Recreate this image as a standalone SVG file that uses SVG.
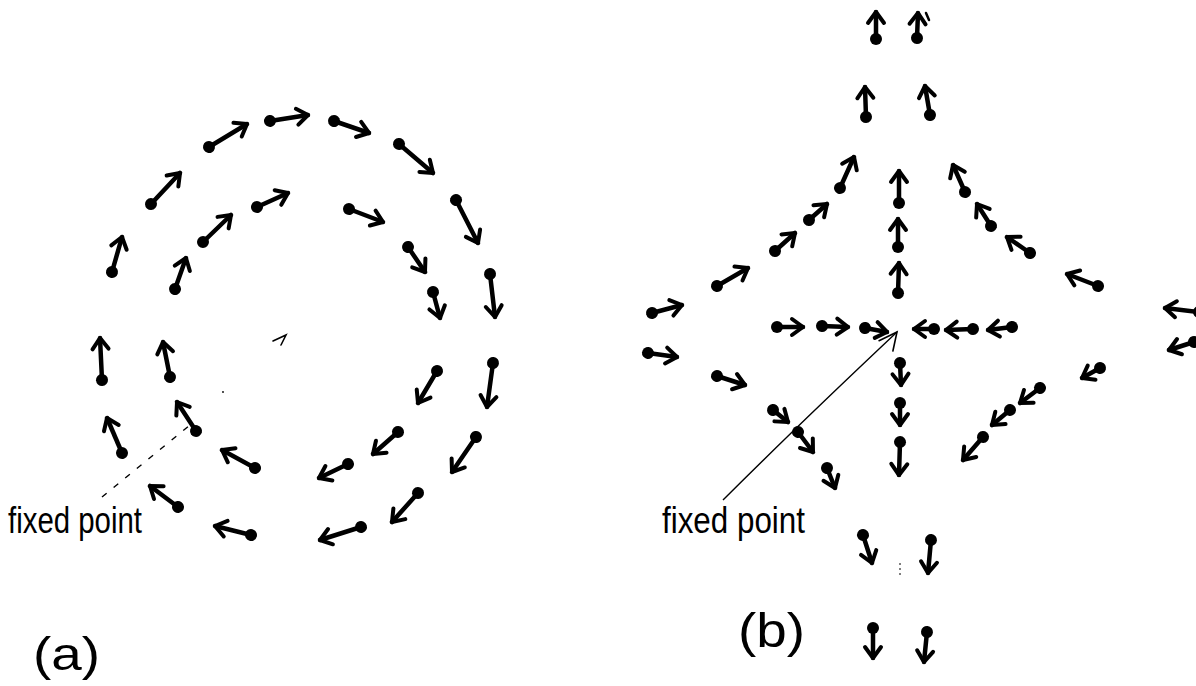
<svg xmlns="http://www.w3.org/2000/svg" width="1196" height="686" viewBox="0 0 1196 686">
<style>
.v{stroke:#000;stroke-width:4.5;stroke-linecap:round;fill:none;marker-start:url(#dot);marker-end:url(#head)}
.lbl{font-family:"Liberation Sans",Arial,sans-serif;fill:#000}
.lead{stroke:#000;fill:none;stroke-width:1.4}
</style>
<defs>
<marker id="head" markerUnits="userSpaceOnUse" markerWidth="30" markerHeight="30" viewBox="-15 -15 30 30" refX="0" refY="0" orient="auto" overflow="visible">
<path d="M-11,-8 L0,0 L-11,8" fill="none" stroke="#000" stroke-width="4" stroke-linecap="round" stroke-linejoin="round"/>
</marker>
<marker id="dot" markerUnits="userSpaceOnUse" markerWidth="20" markerHeight="20" viewBox="-10 -10 20 20" refX="0" refY="0" orient="auto" overflow="visible">
<circle r="6" fill="#000"/>
</marker>
<marker id="thinhead" markerUnits="userSpaceOnUse" markerWidth="40" markerHeight="40" viewBox="-20 -20 40 40" refX="0" refY="0" orient="auto" overflow="visible">
<path d="M-19,-6 L0,0 L-16,11" fill="none" stroke="#000" stroke-width="1.6" stroke-linecap="round"/>
</marker>
</defs>
<rect width="1196" height="686" fill="#fff"/>

<g id="panel-a">
<g id="a-outer">
<line class="v" x1="112" y1="272" x2="122" y2="237"/>
<line class="v" x1="151" y1="204" x2="180" y2="173"/>
<line class="v" x1="209" y1="147" x2="247" y2="124"/>
<line class="v" x1="270" y1="121" x2="308" y2="115"/>
<line class="v" x1="334" y1="121" x2="369" y2="133"/>
<line class="v" x1="399" y1="144" x2="433" y2="173"/>
<line class="v" x1="456" y1="200" x2="478" y2="243"/>
<line class="v" x1="490" y1="274" x2="495" y2="317"/>
<line class="v" x1="493" y1="363" x2="487" y2="407"/>
<line class="v" x1="476" y1="437" x2="452" y2="472"/>
<line class="v" x1="418" y1="493" x2="392" y2="522"/>
<line class="v" x1="361" y1="527" x2="320" y2="540"/>
<line class="v" x1="251" y1="535" x2="215" y2="526"/>
<line class="v" x1="178" y1="507" x2="150" y2="486"/>
<line class="v" x1="122" y1="453" x2="107" y2="418"/>
<line class="v" x1="102" y1="380" x2="100" y2="338"/>
</g>
<g id="a-inner">
<line class="v" x1="175" y1="289" x2="186" y2="258"/>
<line class="v" x1="203" y1="242" x2="231" y2="215"/>
<line class="v" x1="257" y1="207" x2="288" y2="193"/>
<line class="v" x1="349" y1="209" x2="383" y2="222"/>
<line class="v" x1="408" y1="247" x2="425" y2="272"/>
<line class="v" x1="433" y1="292" x2="440" y2="318"/>
<line class="v" x1="437" y1="371" x2="418" y2="403"/>
<line class="v" x1="398" y1="432" x2="373" y2="454"/>
<line class="v" x1="348" y1="464" x2="319" y2="478"/>
<line class="v" x1="255" y1="468" x2="222" y2="450"/>
<line class="v" x1="196" y1="431" x2="177" y2="402"/>
<line class="v" x1="170" y1="377" x2="163" y2="342"/>
</g>
<path id="a-center-mark" d="M273,341 L286,335 L281,345" fill="none" stroke="#000" stroke-width="1.6" stroke-linecap="round"/>
<g id="a-label">
<path class="lead" d="M102,497 L190,425" stroke-dasharray="6 9"/>
<circle cx="223" cy="392" r="0.9" fill="#000"/>
<text class="lbl" x="8" y="533" font-size="36" textLength="134" lengthAdjust="spacingAndGlyphs">fixed point</text>
</g>
<text id="a-caption" class="lbl" x="33" y="670" font-size="46" textLength="67" lengthAdjust="spacingAndGlyphs">(a)</text>
</g>

<g id="panel-b">
<g id="b-up">
<line class="v" x1="876" y1="39" x2="876" y2="12"/>
<line class="v" x1="917" y1="38" x2="918" y2="13"/>
<path d="M926,13 L929,20" stroke="#000" stroke-width="2.5" stroke-linecap="round"/>
<line class="v" x1="866" y1="117" x2="865" y2="87"/>
<line class="v" x1="930" y1="115" x2="925" y2="86"/>
<line class="v" x1="840" y1="188" x2="854" y2="157"/>
<line class="v" x1="899" y1="203" x2="899" y2="171"/>
<line class="v" x1="965" y1="192" x2="953" y2="165"/>
<line class="v" x1="809" y1="220" x2="827" y2="204"/>
<line class="v" x1="898" y1="247" x2="898" y2="219"/>
<line class="v" x1="991" y1="226" x2="977" y2="204"/>
<line class="v" x1="775" y1="251" x2="795" y2="233"/>
<line class="v" x1="1030" y1="253" x2="1007" y2="237"/>
<line class="v" x1="717" y1="286" x2="748" y2="268"/>
<line class="v" x1="898" y1="293" x2="899" y2="263"/>
<line class="v" x1="1098" y1="286" x2="1067" y2="274"/>
</g>
<g id="b-horizontal">
<line class="v" x1="652" y1="313" x2="682" y2="305"/>
<line class="v" x1="648" y1="353" x2="677" y2="357"/>
<line class="v" x1="1199" y1="312" x2="1165" y2="308"/>
<line class="v" x1="1194" y1="342" x2="1169" y2="350"/>
<line class="v" x1="777" y1="327" x2="803" y2="327"/>
<line class="v" x1="822" y1="326" x2="848" y2="327"/>
<line class="v" x1="865" y1="328" x2="887" y2="332"/>
<line class="v" x1="934" y1="329" x2="914" y2="329"/>
<line class="v" x1="973" y1="329" x2="946" y2="330"/>
<line class="v" x1="1012" y1="327" x2="988" y2="330"/>
</g>
<g id="b-down">
<line class="v" x1="717" y1="376" x2="745" y2="385"/>
<line class="v" x1="773" y1="410" x2="788" y2="422"/>
<line class="v" x1="798" y1="432" x2="813" y2="452"/>
<line class="v" x1="827" y1="468" x2="835" y2="488"/>
<line class="v" x1="900" y1="363" x2="901" y2="385"/>
<line class="v" x1="900" y1="403" x2="900" y2="425"/>
<line class="v" x1="900" y1="442" x2="899" y2="475"/>
<line class="v" x1="1100" y1="368" x2="1082" y2="378"/>
<line class="v" x1="1040" y1="388" x2="1020" y2="403"/>
<line class="v" x1="1010" y1="410" x2="992" y2="425"/>
<line class="v" x1="983" y1="437" x2="963" y2="460"/>
<line class="v" x1="863" y1="535" x2="872" y2="563"/>
<line class="v" x1="931" y1="540" x2="928" y2="573"/>
<line class="v" x1="873" y1="628" x2="873" y2="658"/>
<line class="v" x1="927" y1="632" x2="924" y2="662"/>
<path d="M900,563 L900,575" stroke="#000" stroke-width="1" stroke-dasharray="2 3"/>
</g>
<g id="b-label">
<path class="lead" d="M723,500 Q793,430 897,332" marker-end="url(#thinhead)"/>
<text class="lbl" x="662" y="533" font-size="36" textLength="143" lengthAdjust="spacingAndGlyphs">fixed point</text>
</g>
<text id="b-caption" class="lbl" x="738" y="647" font-size="48" textLength="67" lengthAdjust="spacingAndGlyphs">(b)</text>
</g>
</svg>
